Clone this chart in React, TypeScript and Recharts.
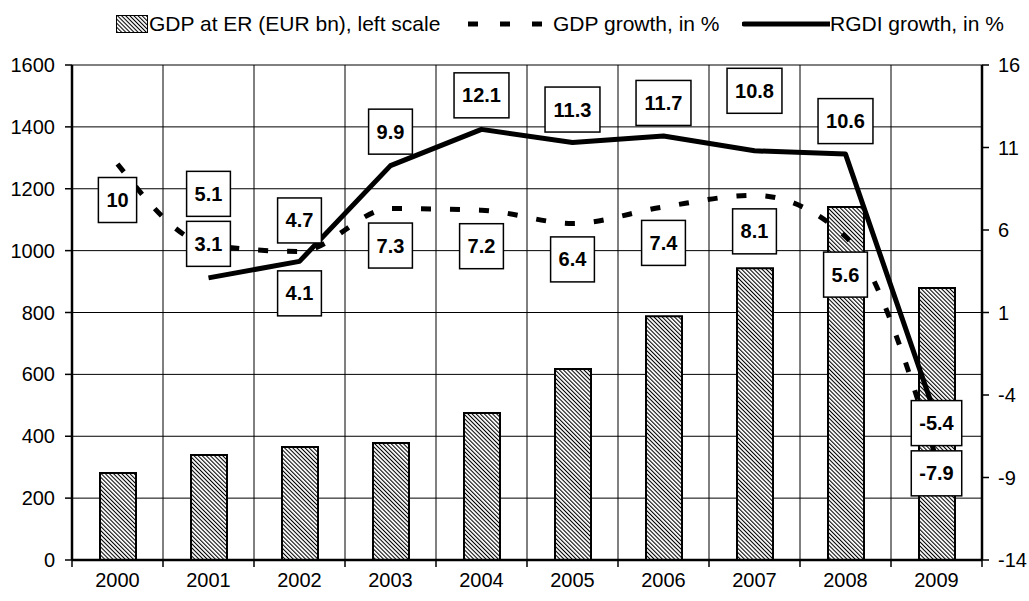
import { ComposedChart, Bar, Line, XAxis, YAxis, CartesianGrid, Legend, LabelList } from 'recharts';

const years = ['2000', '2001', '2002', '2003', '2004', '2005', '2006', '2007', '2008', '2009'];
const gdpEur = [281, 339, 365, 378, 475, 617, 788, 943, 1141, 879];
const gdpGrowth = [10, 5.1, 4.7, 7.3, 7.2, 6.4, 7.4, 8.1, 5.6, -7.9];
const rgdiGrowth = [null, 3.1, 4.1, 9.9, 12.1, 11.3, 11.7, 10.8, 10.6, -5.4];
const leftTicks = [0, 200, 400, 600, 800, 1000, 1200, 1400, 1600];
const rightTicks = [-14, -9, -4, 1, 6, 11, 16];

// where each data label box sits relative to its point (px, + is down)
const gdpLabelDy = [36, -51, -31, 37, 36, 36, 36, 36, 38, 14];
const rgdiLabelDy = [0, -34, 32, -34, -34, -33, -33, -60, -33, 5];

const data = years.map((year, i) => ({
  year,
  gdp: gdpEur[i],
  growth: gdpGrowth[i],
  rgdi: rgdiGrowth[i],
}));

const W = 1029;
const H = 601;
const FONT = '"Liberation Sans", Arial, sans-serif';
const MARGIN = { top: 65, right: 7, bottom: 6, left: 8 };
const LEFT_AXIS_W = 64;
const RIGHT_AXIS_W = 40;
const X_AXIS_H = 35;
const PLOT_W = W - MARGIN.left - MARGIN.right - LEFT_AXIS_W - RIGHT_AXIS_W;
const PLOT_BOTTOM = H - MARGIN.bottom - X_AXIS_H;
const BAND = PLOT_W / years.length;
const HATCH = 2.9;

function textWidth(s: string) {
  let w = 0;
  for (const c of s) {
    if (c === '.') w += 0.278;
    else if (c === '-') w += 0.333;
    else w += 0.556;
  }
  return w * 20;
}

function makeBoxLabel(offsets: number[]) {
  return (props: any) => {
    const { value, index } = props;
    if (value === null || value === undefined) return null;
    const x = props.x ?? props.viewBox?.x;
    const y = props.y ?? props.viewBox?.y;
    const cy = y + (offsets[index] ?? 0);
    const s = String(value);
    const w = textWidth(s) + 16;
    return (
      <g>
        <rect x={x - w / 2} y={cy - 22.5} width={w} height={45} fill="#fff" stroke="#000" strokeWidth={1.5} />
        <text x={x} y={cy + 7} textAnchor="middle" fontFamily={FONT} fontSize={20} fontWeight="bold" fill="#000">
          {s}
        </text>
      </g>
    );
  };
}

function YearTick(props: any) {
  const { x, payload, index } = props;
  return (
    <g>
      {index === 0 && (
        <line x1={x - BAND / 2} x2={x - BAND / 2} y1={PLOT_BOTTOM} y2={PLOT_BOTTOM + 7} stroke="#000" strokeWidth={1.5} />
      )}
      <line x1={x + BAND / 2} x2={x + BAND / 2} y1={PLOT_BOTTOM} y2={PLOT_BOTTOM + 7} stroke="#000" strokeWidth={1.5} />
      <text x={x} y={PLOT_BOTTOM + 27} textAnchor="middle" fontFamily={FONT} fontSize={20} fill="#000">
        {payload.value}
      </text>
    </g>
  );
}

function HatchPattern({ id }: { id: string }) {
  return (
    <pattern id={id} width={HATCH} height={HATCH} patternUnits="userSpaceOnUse" patternTransform="rotate(-45)">
      <rect width={HATCH} height={HATCH} fill="#fff" />
      <line x1={0.5} y1={0} x2={0.5} y2={HATCH} stroke="#000" strokeWidth={1.1} />
    </pattern>
  );
}

function LegendContent() {
  const item = { position: 'absolute' as const, top: 0, height: 32, display: 'flex', alignItems: 'center' };
  return (
    <div style={{ position: 'relative', width: W, height: 32, fontFamily: FONT, fontSize: 21, color: '#000', whiteSpace: 'nowrap' }}>
      <div style={{ ...item, left: 116 }}>
        <svg width={32} height={18}>
          <defs>
            <HatchPattern id="hatchLegend" />
          </defs>
          <rect x={0.5} y={0.5} width={31} height={17} fill="url(#hatchLegend)" stroke="#000" strokeWidth={1} />
        </svg>
      </div>
      <div style={{ ...item, left: 149 }}>GDP at ER (EUR bn), left scale</div>
      <div style={{ ...item, left: 466 }}>
        <svg width={80} height={10}>
          <line x1={2} x2={80} y1={5} y2={5} stroke="#000" strokeWidth={5} strokeDasharray="10 22" />
        </svg>
      </div>
      <div style={{ ...item, left: 553 }}>GDP growth, in %</div>
      <div style={{ ...item, left: 742 }}>
        <svg width={88} height={10}>
          <line x1={2} x2={88} y1={5} y2={5} stroke="#000" strokeWidth={5} strokeLinecap="round" />
        </svg>
      </div>
      <div style={{ ...item, left: 830 }}>RGDI growth, in %</div>
    </div>
  );
}

export default function App() {
  return (
    <div style={{ position: 'absolute', left: 0, top: 0, background: '#fff' }}>
      <ComposedChart width={W} height={H} data={data} margin={MARGIN}>
        <defs>
          <HatchPattern id="hatch" />
        </defs>
        <CartesianGrid
          yAxisId="left"
          stroke="#000"
          strokeWidth={1}
          verticalCoordinatesGenerator={({ offset }: any) =>
            years.map((_, i) => offset.left + (i * offset.width) / years.length).concat(offset.left + offset.width)
          }
        />
        <XAxis
          dataKey="year"
          height={X_AXIS_H}
          interval={0}
          tickLine={false}
          axisLine={{ stroke: '#000', strokeWidth: 2.5 }}
          tick={<YearTick />}
        />
        <YAxis
          yAxisId="left"
          width={LEFT_AXIS_W}
          domain={[0, 1600]}
          ticks={leftTicks}
          interval={0}
          tickSize={7}
          tickMargin={10}
          axisLine={{ stroke: '#000', strokeWidth: 2.5 }}
          tickLine={{ stroke: '#000', strokeWidth: 1.5 }}
          tick={{ fill: '#000', fontSize: 20, fontFamily: FONT }}
        />
        <YAxis
          yAxisId="right"
          orientation="right"
          width={RIGHT_AXIS_W}
          domain={[-14, 16]}
          ticks={rightTicks}
          interval={0}
          tickSize={7}
          tickMargin={9}
          axisLine={{ stroke: '#000', strokeWidth: 2.5 }}
          tickLine={{ stroke: '#000', strokeWidth: 1.5 }}
          tick={{ fill: '#000', fontSize: 20, fontFamily: FONT }}
        />
        <Legend
          verticalAlign="middle"
          align="center"
          layout="horizontal"
          wrapperStyle={{ top: 8, left: 0, width: W, height: 32 }}
          content={<LegendContent />}
        />
        <Bar
          yAxisId="left"
          dataKey="gdp"
          name="GDP at ER (EUR bn), left scale"
          barSize={36}
          fill="url(#hatch)"
          stroke="#000"
          strokeWidth={2}
          isAnimationActive={false}
        />
        <Line
          yAxisId="right"
          dataKey="growth"
          name="GDP growth, in %"
          type="monotone"
          stroke="#000"
          strokeWidth={5}
          strokeDasharray="10 19"
          dot={false}
          isAnimationActive={false}
        >
          <LabelList dataKey="growth" content={makeBoxLabel(gdpLabelDy)} />
        </Line>
        <Line
          yAxisId="right"
          dataKey="rgdi"
          name="RGDI growth, in %"
          type="linear"
          stroke="#000"
          strokeWidth={5}
          strokeLinejoin="round"
          dot={false}
          isAnimationActive={false}
        >
          <LabelList dataKey="rgdi" content={makeBoxLabel(rgdiLabelDy)} />
        </Line>
      </ComposedChart>
    </div>
  );
}
